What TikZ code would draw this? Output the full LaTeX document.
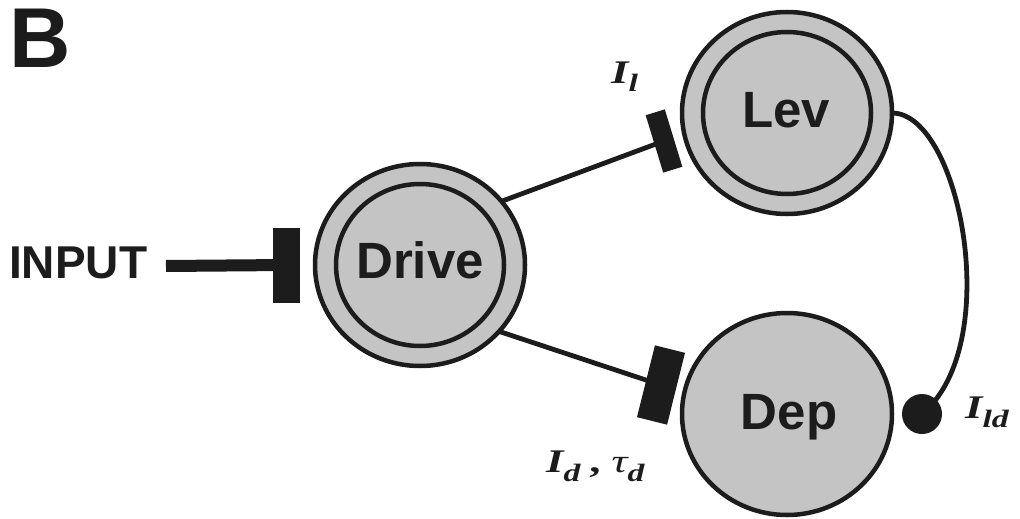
\documentclass[tikz,border=0pt]{standalone}
\usepackage{fontspec}
\setmainfont{Liberation Serif}
\newfontfamily\hvfont{Liberation Sans}
% wide serif face for the parameter names
\newfontfamily\parfont[FakeStretch=1.35]{Liberation Serif}
\usetikzlibrary{shapes.geometric}
\definecolor{cellgray}{RGB}{196,196,196}
\definecolor{ink}{RGB}{28,28,28}
% subscript in bold italic, dropped below the baseline
\newcommand\lsub[1]{\raisebox{-9pt}{\fontsize{25}{25}\selectfont\bfseries\itshape #1}}
\newcommand\bigI{{\bfseries\itshape I}}

\begin{document}
\begin{tikzpicture}[x=1pt,y=-1pt,
  cell/.style={ellipse, draw=ink, fill=cellgray, line width=4.5pt, inner sep=0pt, outer sep=0pt,
               minimum width=210pt, minimum height=202pt},
  ring/.style={ellipse, draw=ink, line width=4.5pt, inner sep=0pt, outer sep=0pt,
               minimum width=168pt, minimum height=162pt},
  celltext/.style={anchor=base, inner sep=0pt, text=ink, font=\hvfont\bfseries\fontsize{51}{51}\selectfont},
  synbar/.style={rectangle, fill=ink, inner sep=0pt, outer sep=0pt},
  link/.style={draw=ink, line width=4.8pt},
  param/.style={anchor=base west, inner sep=0pt, text=ink, font=\parfont\fontsize{33}{33}\selectfont}
]
\useasboundingbox (0,0) rectangle (1020,519);

% panel letter and input label
\node[anchor=base west, inner sep=0pt, text=ink, font=\hvfont\bfseries\fontsize{85}{85}\selectfont] (panel) at (9,68) {B};
\node[anchor=base west, inner sep=0pt, text=ink, font=\hvfont\bfseries\fontsize{46}{46}\selectfont] (input) at (9,278) {INPUT};

% cells
\node[cell] (drive) at (420,265) {};
\node[ring] (drivering) at (drive.center) {};
\node[celltext] (drivelabel) at (420,278) {Drive};

\node[cell] (lev) at (787,113) {};
\node[ring] (levring) at (lev.center) {};
\node[celltext] (levlabel) at (786,127) {Lev};

\node[cell] (dep) at (787,414) {};
\node[celltext] (deplabel) at (789,429) {Dep};

% synaptic terminals
\node[synbar, minimum width=27pt, minimum height=75pt] (inbar) at (286,265) {};
\node[synbar, minimum width=20pt, minimum height=60pt, rotate=17] (levbar) at (664,141) {};
\node[synbar, minimum width=31pt, minimum height=74pt, rotate=-14] (depbar) at (661,385) {};
\node[circle, fill=ink, inner sep=0pt, minimum size=40pt] (lddot) at (922,414) {};

% connections
\coordinate (instart) at (166,266);
\draw[draw=ink, line width=12pt] (instart) -- (inbar.center);
\draw[link] (drive.38) -- (levbar.center);
\draw[link] (drive.-40) -- (depbar.center);
\draw[link] (lev.east) .. controls (960,113) and (1005,345) .. (lddot.center);

% parameter labels
\node[param] (il) at (611,83) {\bigI\lsub{l}};
\node[param] (id) at (546,472) {\bigI\lsub{d}\hspace{9pt}\textbf{,}\hspace{11pt}{\itshape τ}\lsub{d}};
\node[param] (ild) at (965,418) {\bigI\lsub{ld}};
\end{tikzpicture}
\end{document}
